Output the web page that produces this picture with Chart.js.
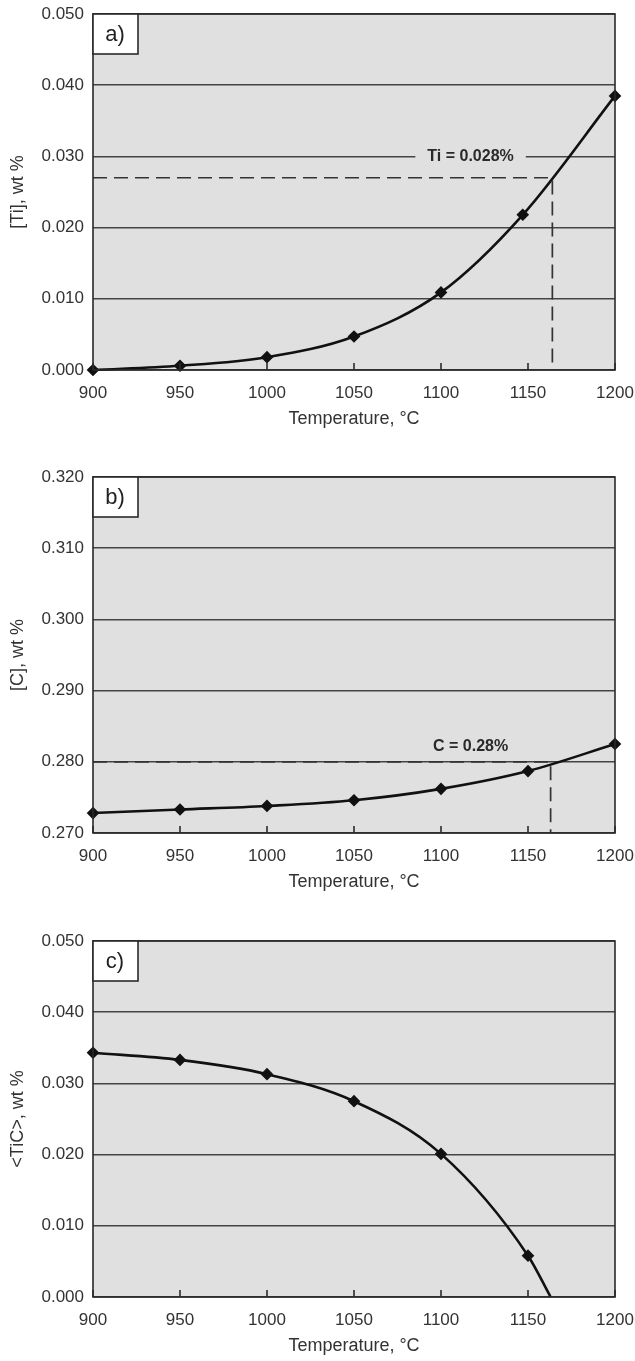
<!DOCTYPE html>
<html>
<head>
<meta charset="utf-8">
<script src="https://cdn.jsdelivr.net/npm/chart.js@4.4.1/dist/chart.umd.min.js"></script>
<style>
  body { margin: 0; background: #fff; width: 635px; height: 1361px; position: relative; overflow: hidden; }
  canvas { position: absolute; left: 0; }
</style>
</head>
<body>
<canvas id="chartA"></canvas>
<canvas id="chartB"></canvas>
<canvas id="chartC"></canvas>
<script>
// x axis (temperature, deg C)
const xTicks = [900, 950, 1000, 1050, 1100, 1150, 1200];

// a) dissolved Ti
const tiTemps = [900, 950, 1000, 1050, 1100, 1147, 1200];
const tiValues = [0.0000, 0.0006, 0.0018, 0.0047, 0.0109, 0.0218, 0.0385];
const tiTicks = [0.000, 0.010, 0.020, 0.030, 0.040, 0.050];
const tiGuideTemps = [900, 1164, 1164];
const tiGuideValues = [0.0270, 0.0270, 0.0000];

// b) dissolved C
const cTemps = [900, 950, 1000, 1050, 1100, 1150, 1200];
const cValues = [0.2728, 0.2733, 0.2738, 0.2746, 0.2762, 0.2787, 0.2825];
const cTicks = [0.270, 0.280, 0.290, 0.300, 0.310, 0.320];
const cGuideTemps = [900, 1163, 1163];
const cGuideValues = [0.2800, 0.2800, 0.2700];

// c) TiC precipitate
const ticTemps = [900, 950, 1000, 1050, 1100, 1150, 1163];
const ticValues = [0.0343, 0.0333, 0.0313, 0.0275, 0.0201, 0.0058, 0.0000];
const ticTicks = [0.000, 0.010, 0.020, 0.030, 0.040, 0.050];

Chart.defaults.font.family = "'Liberation Sans', Arial, sans-serif";
Chart.defaults.color = "#333";

const toPoints = (xs, ys) => xs.map((x, i) => ({ x: x, y: ys[i] }));

// gray plot area, frame, inner ticks, panel letter and note
const panelPlugin = {
  id: "panel",
  beforeDraw(chart) {
    const { ctx, chartArea: a } = chart;
    ctx.save();
    ctx.fillStyle = "#e0e0e0";
    ctx.fillRect(a.left, a.top, a.right - a.left, a.bottom - a.top);
    ctx.restore();
  },
  afterDatasetsDraw(chart, args, opts) {
    const { ctx, chartArea: a, scales } = chart;
    ctx.save();
    ctx.strokeStyle = "#2a2a2a";
    ctx.lineWidth = 1.6;
    // inner x ticks
    xTicks.forEach(v => {
      const px = scales.x.getPixelForValue(v);
      ctx.beginPath();
      ctx.moveTo(px, a.bottom);
      ctx.lineTo(px, a.bottom - 7);
      ctx.stroke();
    });
    // frame
    ctx.strokeRect(a.left, a.top, a.right - a.left, a.bottom - a.top);
    // letter box
    ctx.fillStyle = "#fff";
    ctx.fillRect(a.left, a.top, 45, 40);
    ctx.strokeRect(a.left, a.top, 45, 40);
    ctx.fillStyle = "#222";
    ctx.font = "22px 'Liberation Sans', Arial, sans-serif";
    ctx.textAlign = "center";
    ctx.textBaseline = "middle";
    ctx.fillText(opts.letter, a.left + 22, a.top + 21);
    // note
    if (opts.note) {
      const nx = scales.x.getPixelForValue(opts.noteX);
      const ny = scales.y.getPixelForValue(opts.noteY);
      ctx.font = "bold 16px 'Liberation Sans', Arial, sans-serif";
      const w = ctx.measureText(opts.note).width;
      if (opts.noteBox) {
        ctx.fillStyle = "#e0e0e0";
        ctx.fillRect(nx - w / 2 - 12, ny - 9, w + 24, 18);
      }
      ctx.fillStyle = "#2a2a2a";
      ctx.fillText(opts.note, nx, ny);
    }
    ctx.restore();
  }
};

function makePanel(id, p) {
  const canvas = document.getElementById(id);
  canvas.width = 635;
  canvas.height = p.H;
  canvas.style.top = p.T + "px";
  const titleLh = 18 * 1.2;
  const datasets = [{
    data: toPoints(p.temps, p.values),
    borderColor: "#111",
    borderWidth: 2.6,
    cubicInterpolationMode: "monotone",
    pointStyle: "rectRot",
    pointRadius: p.values.map((v, i) => (p.hideLast && i === p.values.length - 1) ? 0 : 4.5),
    pointBackgroundColor: "#111",
    pointBorderColor: "#111",
    clip: false
  }];
  if (p.guideTemps) {
    datasets.unshift({
      data: toPoints(p.guideTemps, p.guideValues),
      borderColor: "#333",
      borderWidth: 1.7,
      borderDash: [14, 7],
      pointRadius: 0,
      tension: 0
    });
  }
  return new Chart(canvas, {
    type: "line",
    data: { datasets: datasets },
    plugins: [panelPlugin],
    options: {
      responsive: false,
      animation: false,
      layout: { padding: { left: 0, right: 20, top: p.top - p.T, bottom: 0 } },
      plugins: {
        legend: { display: false },
        tooltip: { enabled: false },
        panel: { letter: p.letter, note: p.note, noteX: p.noteX, noteY: p.noteY, noteBox: p.noteBox }
      },
      scales: {
        x: {
          type: "linear",
          min: 900,
          max: 1200,
          afterBuildTicks: s => { s.ticks = xTicks.map(v => ({ value: v })); },
          afterFit: s => { s.height = p.T + p.H - p.bottom; s.paddingLeft = 0; s.paddingRight = 0; },
          ticks: { autoSkip: false, maxRotation: 0, padding: 13, font: { size: 17 }, callback: v => String(v) },
          grid: { display: false, drawTicks: false },
          border: { display: false },
          title: {
            display: true, text: "Temperature, °C", font: { size: 18 },
            padding: { top: 0, bottom: p.T + p.H - p.titleY - titleLh / 2 }
          }
        },
        y: {
          min: p.yTicks[0],
          max: p.yTicks[p.yTicks.length - 1],
          afterBuildTicks: s => { s.ticks = p.yTicks.map(v => ({ value: v })); },
          afterFit: s => { s.width = 93; s.paddingTop = 0; s.paddingBottom = 0; },
          ticks: { padding: 9, font: { size: 17 }, callback: v => v.toFixed(3) },
          grid: { color: "#444", lineWidth: 1.6, drawTicks: false },
          border: { display: false },
          title: { display: true, text: p.yTitle, font: { size: 18 }, padding: { top: 7, bottom: 0 } }
        }
      }
    }
  });
}

makePanel("chartA", {
  T: 0, H: 440, top: 14, bottom: 370, titleY: 419,
  temps: tiTemps, values: tiValues, yTicks: tiTicks, yTitle: "[Ti], wt %",
  guideTemps: tiGuideTemps, guideValues: tiGuideValues,
  letter: "a)", note: "Ti = 0.028%", noteX: 1117, noteY: 0.030, noteBox: true
});

makePanel("chartB", {
  T: 445, H: 450, top: 477, bottom: 833, titleY: 882,
  temps: cTemps, values: cValues, yTicks: cTicks, yTitle: "[C], wt %",
  guideTemps: cGuideTemps, guideValues: cGuideValues,
  letter: "b)", note: "C = 0.28%", noteX: 1117, noteY: 0.2821, noteBox: false
});

makePanel("chartC", {
  T: 900, H: 461, top: 941, bottom: 1297, titleY: 1346,
  temps: ticTemps, values: ticValues, yTicks: ticTicks, yTitle: "<TiC>, wt %",
  hideLast: true, letter: "c)"
});
</script>
</body>
</html>
